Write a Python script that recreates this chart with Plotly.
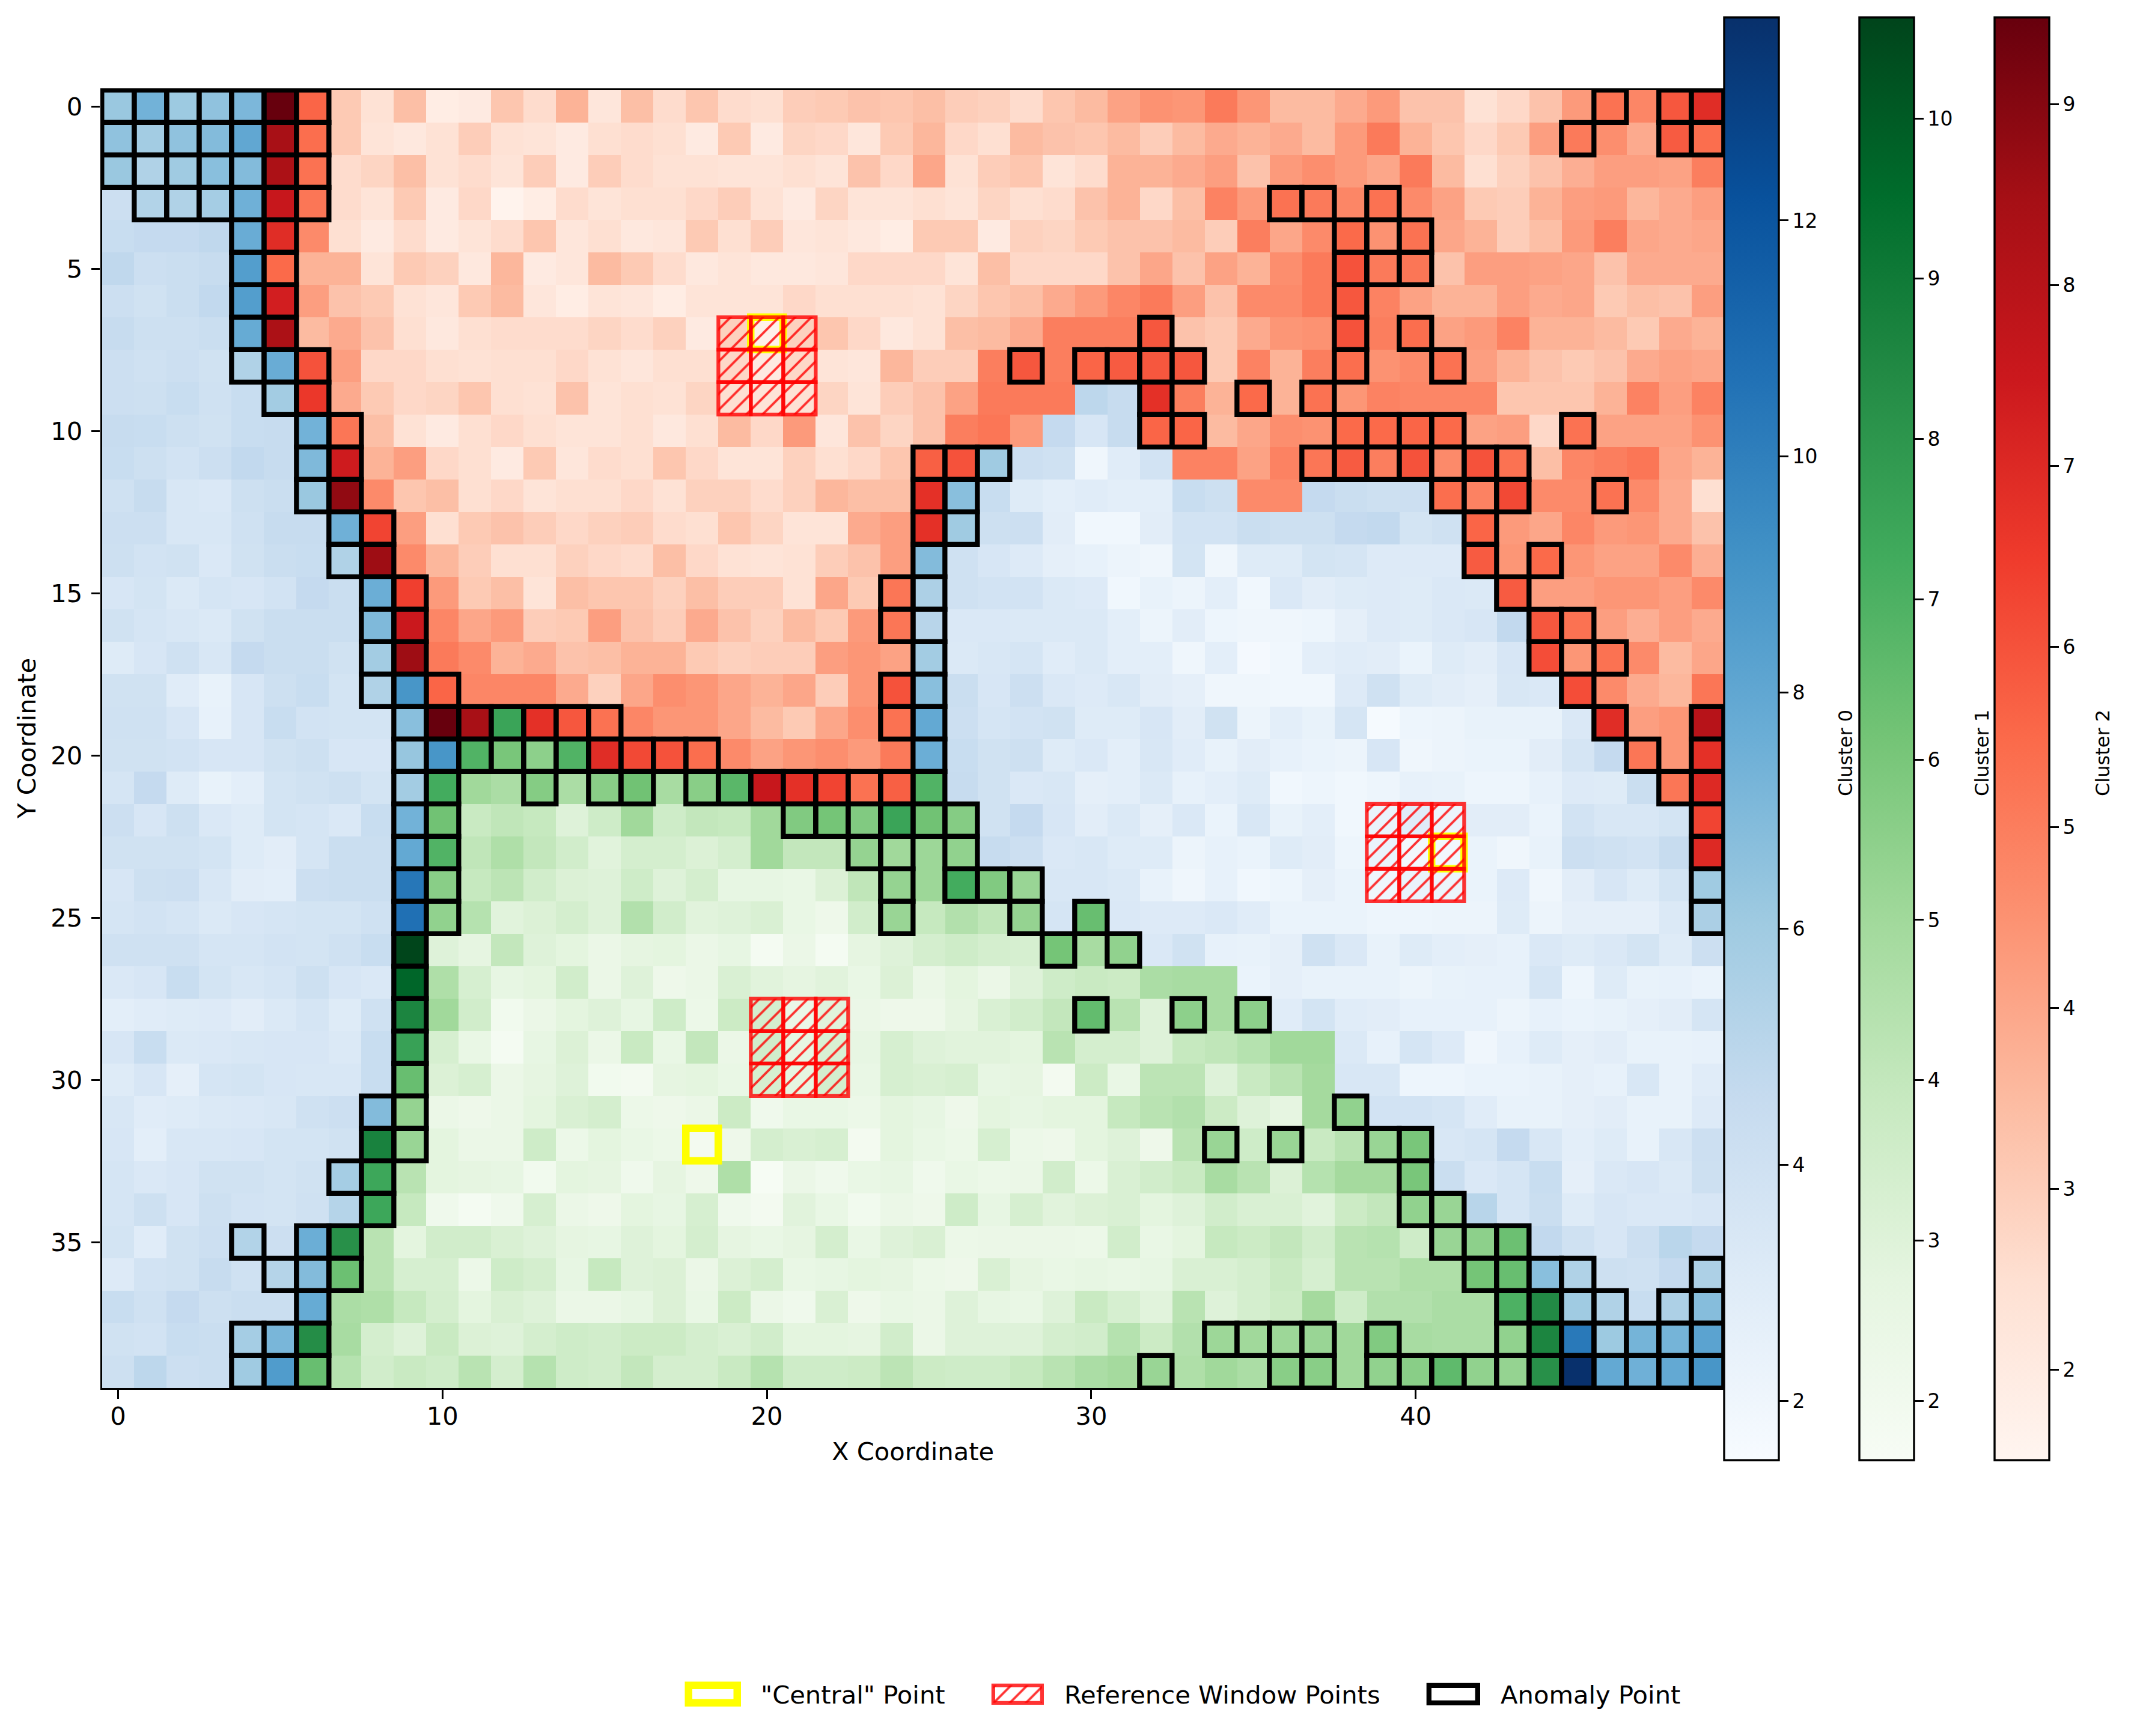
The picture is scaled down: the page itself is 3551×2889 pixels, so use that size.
import plotly.graph_objects as go

W, H = 3551, 2889
AX_L, AX_R, AX_T, AX_B = 169.5, 2868.5, 150, 2310
FONT = "DejaVu Sans"

x_ticks = [0, 10, 20, 30, 40]
y_ticks = [0, 5, 10, 15, 20, 25, 30, 35]

values = [
[6.2,7.4,6.1,6.5,7.1,9.5,5.6,3.1,2.4,3.4,1.9,2.0,3.2,2.6,3.7,2.2,3.4,2.6,3.2,2.6,2.5,3.0,3.1,3.3,3.2,3.4,3.0,2.9,2.6,3.2,3.5,4.1,4.5,4.4,5.1,4.4,3.5,3.5,3.9,4.3,3.3,3.3,2.4,2.7,3.3,4.3,5.3,4.8,5.9,6.9],
[6.5,5.9,6.5,6.9,8.0,8.4,5.4,3.1,2.3,2.1,2.4,3.0,2.4,2.3,2.0,2.5,2.6,2.5,2.0,3.1,2.0,2.8,2.7,2.2,3.1,3.6,2.7,2.5,3.5,3.3,3.2,3.5,3.0,3.5,3.9,3.7,3.9,3.5,4.3,5.1,3.7,3.2,2.7,3.1,4.2,5.1,4.6,3.9,5.8,5.4],
[6.2,5.4,6.0,6.7,6.9,8.3,5.3,2.6,2.8,3.4,2.4,2.6,2.3,3.0,2.0,3.0,2.6,2.4,2.4,2.3,2.3,2.5,2.3,3.3,2.7,4.0,2.4,3.0,3.2,2.3,2.6,3.7,3.7,3.9,4.2,3.3,4.3,4.6,4.3,4.0,5.1,3.5,2.5,2.9,3.3,3.8,4.2,4.2,4.1,5.0],
[4.2,5.3,5.4,5.8,7.5,7.6,5.2,2.6,2.3,3.1,2.0,2.7,1.6,1.9,2.6,2.3,2.5,2.5,2.7,3.0,2.4,2.0,2.8,2.3,2.3,2.5,2.3,2.8,2.5,2.6,3.3,3.7,2.7,3.4,4.9,4.3,5.3,5.1,4.8,5.3,4.7,4.1,3.1,3.0,3.7,4.2,4.3,3.6,3.9,4.2],
[4.4,4.6,4.6,4.8,7.7,6.9,4.7,2.5,2.0,2.6,2.0,2.3,2.6,3.2,2.2,2.5,2.1,2.2,3.1,2.5,3.0,2.2,2.3,2.1,1.9,3.1,3.1,2.0,2.9,2.8,3.1,3.3,3.3,3.5,3.0,5.0,4.0,4.7,5.5,4.5,5.3,4.0,3.7,3.0,3.4,4.3,5.0,4.0,3.9,4.0],
[4.8,4.2,4.3,4.5,8.5,5.5,3.7,3.7,2.3,3.1,2.9,2.1,3.6,2.0,2.2,3.5,3.1,2.6,2.1,2.3,2.1,2.1,2.2,2.7,2.7,2.7,2.3,3.4,2.7,2.7,2.7,3.3,4.0,3.3,4.1,3.7,4.6,5.1,6.0,5.1,5.2,3.3,4.2,4.2,4.1,4.0,3.3,3.9,3.9,3.9],
[4.2,3.9,4.3,4.7,8.5,7.3,4.2,3.3,3.1,2.4,2.2,3.1,3.5,2.2,1.9,2.3,2.2,1.9,2.3,2.3,2.3,2.7,2.5,2.5,2.5,2.4,2.8,3.2,3.4,3.9,4.3,4.8,5.1,4.2,3.3,4.7,4.7,5.1,5.9,4.9,4.1,3.7,3.7,4.2,3.9,4.0,3.1,3.4,3.3,4.2],
[4.5,4.1,4.1,4.3,7.8,8.3,3.5,3.9,3.3,2.5,2.1,2.5,2.6,2.6,2.6,2.8,2.6,2.9,2.0,2.9,1.7,2.9,3.2,2.7,2.1,2.4,3.4,3.5,3.9,5.0,5.0,5.0,5.9,3.3,3.1,3.9,4.4,4.5,6.0,5.0,5.4,4.1,4.3,4.9,3.7,3.7,3.5,3.1,3.9,3.7],
[4.2,4.0,4.2,3.9,5.4,7.7,6.0,4.2,2.7,2.7,2.5,2.4,2.5,2.5,2.7,2.4,2.2,2.5,2.5,2.7,2.0,2.7,2.3,2.2,3.6,3.0,3.0,5.0,5.9,5.0,5.6,5.8,5.9,5.9,3.1,4.9,3.7,5.0,5.4,4.5,4.7,5.3,4.2,3.7,3.3,3.1,3.3,3.9,4.1,4.0],
[4.2,4.1,4.4,4.0,4.4,5.9,6.6,3.9,3.1,2.7,2.8,3.2,2.5,2.4,3.3,2.3,2.5,2.4,2.8,2.5,2.3,2.4,2.8,2.3,3.0,3.3,4.1,5.1,5.1,5.1,4.9,4.5,6.8,5.0,3.7,5.5,3.7,5.3,4.4,4.9,4.8,4.8,4.8,3.2,3.2,3.2,3.7,4.9,4.2,4.9],
[4.5,4.4,4.1,3.9,4.4,4.5,7.4,5.2,3.4,2.4,2.0,2.5,2.7,2.5,2.3,2.3,2.5,2.1,2.5,3.5,2.7,4.3,2.2,3.3,2.8,3.3,5.0,5.2,4.3,4.6,3.5,4.5,5.6,5.6,3.5,4.0,4.6,4.5,5.5,5.5,5.6,5.5,4.1,4.2,2.7,5.3,4.1,4.1,4.1,4.5],
[4.4,4.1,3.8,4.2,4.7,4.5,7.0,7.4,3.7,4.2,2.7,2.5,2.0,3.1,2.2,2.6,2.5,3.2,2.7,2.3,2.3,2.9,2.5,2.7,3.2,5.7,6.0,6.0,4.2,4.0,2.0,2.9,3.8,4.9,4.9,4.1,4.9,5.2,5.8,5.0,6.0,4.7,6.0,5.3,3.4,4.8,5.0,5.2,4.0,3.7],
[4.0,4.5,3.4,3.3,4.1,4.3,6.2,8.8,4.7,3.2,3.4,2.5,2.7,2.3,2.5,2.5,2.7,2.4,2.9,2.9,2.6,2.9,3.6,3.4,3.4,6.8,6.7,4.4,3.0,2.7,2.9,2.7,2.7,4.4,4.1,4.7,4.7,4.6,4.3,4.1,4.2,5.4,4.9,6.2,4.7,4.7,5.3,4.7,3.9,2.5],
[4.2,4.2,3.4,3.4,4.0,4.5,4.5,7.5,6.3,4.2,2.5,3.1,3.3,3.0,2.7,2.9,3.0,2.6,2.5,3.2,2.8,2.3,2.3,3.9,4.2,6.8,6.0,4.1,4.2,2.8,1.9,1.9,2.8,3.8,3.8,4.3,4.1,4.1,4.6,4.7,3.7,4.0,5.6,4.3,4.0,4.8,4.3,4.4,3.9,3.3],
[4.1,3.8,3.9,3.3,3.9,4.3,4.4,5.4,8.6,4.7,3.6,3.0,2.5,2.5,2.9,2.7,2.6,3.4,2.7,2.4,2.3,2.4,3.0,3.3,4.2,6.9,4.0,3.5,3.1,2.6,2.5,2.2,2.0,3.7,2.0,3.0,3.0,3.7,3.6,3.1,3.1,3.1,5.8,4.4,5.5,4.4,4.1,4.1,4.7,3.8],
[3.5,3.7,3.2,3.6,3.5,3.8,4.6,4.3,7.6,6.4,4.3,3.1,3.4,2.3,3.4,3.2,3.2,2.9,3.4,3.0,3.0,2.4,4.0,3.1,5.2,5.5,4.0,3.8,3.8,3.2,3.1,1.9,2.4,2.2,2.7,1.9,3.3,2.8,3.0,3.1,3.0,3.3,3.2,5.8,4.2,4.2,4.4,4.4,4.2,4.7],
[3.9,3.6,3.4,3.2,3.9,4.3,4.3,4.3,7.0,7.5,4.8,4.0,4.3,3.0,3.1,4.2,3.3,3.0,3.9,3.3,2.9,3.5,3.1,4.3,5.2,5.1,3.3,3.3,3.2,3.2,3.2,2.7,2.2,2.8,2.1,2.0,2.0,2.1,2.6,3.1,3.0,3.3,3.5,4.7,5.9,5.3,4.2,3.8,4.2,3.9],
[3.0,3.5,4.0,3.4,4.6,4.3,4.3,3.9,5.9,8.6,5.1,4.7,3.7,3.9,3.3,3.4,3.7,3.7,3.1,2.9,3.0,3.0,4.2,4.4,4.1,5.9,3.2,3.4,3.6,2.9,3.2,2.7,2.7,2.0,2.7,1.7,1.9,2.7,2.9,2.8,2.3,3.0,2.8,3.5,6.1,4.4,5.3,4.7,3.5,4.0],
[3.9,3.9,2.9,2.4,3.5,4.1,4.4,3.7,5.4,8.9,5.6,4.8,4.8,4.8,3.9,2.9,4.0,4.6,4.4,4.0,3.7,4.0,3.0,4.4,6.0,6.7,4.3,3.5,4.2,3.3,3.1,3.4,2.8,2.6,2.0,2.0,1.9,1.9,3.1,4.0,3.0,2.8,2.6,3.4,3.3,6.1,4.7,3.9,3.6,5.2],
[4.0,4.0,3.5,2.5,3.5,4.4,3.8,3.7,3.7,6.7,9.5,8.4,7.5,6.8,5.9,5.3,4.8,4.4,4.4,4.0,3.5,3.1,4.0,4.6,5.3,7.9,4.2,3.6,3.8,3.9,3.0,3.0,3.5,2.8,3.9,2.2,2.7,2.4,3.6,1.6,2.1,2.2,2.4,2.4,2.4,3.3,6.9,4.2,4.4,8.0],
[3.9,3.9,3.8,3.5,3.5,3.9,4.1,3.5,3.5,6.3,8.9,6.9,6.0,5.5,6.9,6.9,6.2,6.0,5.4,4.7,4.1,4.4,4.6,4.3,5.1,7.6,4.4,3.9,4.1,3.0,3.3,2.7,3.4,2.9,2.4,2.8,2.5,2.3,2.2,3.5,2.0,2.2,2.3,2.3,2.8,3.6,4.6,5.2,4.4,6.8],
[3.6,4.6,3.0,2.4,2.7,3.7,3.9,4.1,3.7,5.9,7.2,5.0,4.7,5.7,4.7,5.6,6.2,4.8,5.6,6.7,7.6,6.8,6.3,5.3,5.7,6.9,4.5,3.9,3.3,3.4,2.6,2.7,3.2,2.5,2.7,3.0,1.9,2.1,1.9,2.1,2.5,2.4,2.1,2.1,2.5,3.1,3.0,4.3,5.2,7.0],
[4.2,3.5,4.1,3.3,3.0,3.7,3.6,3.3,4.4,7.4,6.2,3.8,4.1,3.9,3.0,3.6,5.0,3.6,4.0,3.9,5.0,5.8,6.1,5.8,7.5,6.2,5.7,3.9,4.6,3.5,2.8,3.2,2.6,3.3,2.3,3.4,2.4,2.7,1.9,2.3,2.9,2.2,2.8,2.8,2.3,3.8,3.4,3.4,3.7,6.3],
[3.9,3.9,3.9,3.7,3.0,2.8,3.6,4.3,4.3,7.9,6.9,4.1,4.6,4.0,3.5,2.9,3.4,3.4,3.1,3.4,5.0,4.0,4.0,5.3,5.0,5.1,5.4,4.5,4.2,3.3,3.4,3.0,3.0,2.2,2.5,2.3,3.0,2.8,2.1,2.3,1.8,1.8,2.3,2.0,2.4,4.2,4.0,3.8,4.5,7.0],
[3.5,4.1,4.2,3.4,2.8,2.7,4.2,4.3,4.3,10.4,5.6,3.9,4.2,3.5,3.1,3.0,3.6,3.0,3.4,2.6,2.6,2.5,3.1,4.1,5.3,5.1,7.2,5.8,5.2,3.4,3.4,3.2,2.4,2.0,2.5,1.9,2.1,2.6,2.3,2.0,2.3,2.2,2.3,3.1,2.0,2.8,3.5,3.0,3.7,6.0],
[3.6,3.8,3.6,3.2,3.5,3.6,3.7,3.7,4.0,10.7,5.4,4.4,2.9,3.1,3.4,3.0,4.5,3.5,2.9,3.0,3.2,2.5,2.2,3.5,5.2,3.9,4.5,4.1,5.3,3.6,6.4,3.3,3.1,3.1,3.3,2.9,2.3,2.3,2.3,2.1,2.1,2.2,2.2,3.0,2.2,2.6,2.6,2.6,3.2,5.6],
[4.0,4.0,4.0,3.6,3.6,3.8,3.7,4.0,4.4,10.6,3.0,2.7,4.0,3.0,2.8,2.4,2.7,2.8,2.4,2.6,1.8,2.4,1.8,2.7,3.0,3.4,3.6,3.4,3.3,6.1,4.8,5.4,3.3,3.9,2.5,2.4,2.6,4.0,3.3,2.4,3.0,2.7,2.6,2.5,3.3,3.0,3.3,3.7,3.0,4.2],
[3.3,3.5,4.4,3.7,3.4,3.6,4.1,3.5,3.3,9.7,4.6,3.3,2.6,2.8,3.5,2.4,3.0,2.2,2.4,3.2,2.9,2.7,2.9,2.5,3.1,2.4,2.8,2.4,3.0,3.6,3.8,3.7,4.7,4.8,4.8,2.3,2.6,2.4,2.4,2.4,2.2,2.4,2.5,2.5,3.6,2.1,3.0,2.4,2.5,2.3],
[2.7,2.9,3.0,3.1,2.8,3.2,3.6,3.0,4.0,8.6,5.0,3.5,2.0,2.4,2.8,3.0,2.6,3.6,2.3,3.7,3.4,2.4,2.9,2.4,2.2,2.2,2.7,3.2,3.5,4.0,6.5,4.3,3.0,5.5,4.8,5.5,2.9,3.7,2.9,2.8,2.5,2.5,2.5,2.2,2.5,2.3,2.4,2.6,2.8,3.6],
[3.5,4.4,3.2,3.3,3.4,3.5,3.5,3.2,4.4,7.6,3.3,2.5,1.8,2.6,3.1,2.4,3.8,2.5,4.0,2.4,3.5,2.6,3.2,2.6,3.3,3.0,2.9,2.9,2.8,4.3,3.4,3.4,3.0,3.9,4.1,4.4,5.0,5.0,3.2,2.5,3.6,3.1,2.0,2.5,3.0,2.6,2.8,2.4,2.4,2.5],
[3.0,3.5,2.6,3.6,3.7,3.5,3.4,3.4,4.4,6.4,3.1,3.3,2.4,2.7,3.0,2.0,1.9,2.7,2.8,2.5,3.3,2.7,3.4,2.5,3.3,3.2,3.3,2.6,2.7,1.9,3.7,2.5,4.2,4.2,3.0,3.8,4.3,4.9,3.4,3.4,2.1,2.1,2.3,2.3,2.4,2.6,2.5,3.4,2.4,2.9],
[3.4,2.9,3.0,3.2,3.3,3.4,4.0,4.2,6.9,5.3,2.4,2.2,2.4,2.8,3.2,3.4,2.3,2.2,2.4,3.7,2.1,2.5,2.5,2.3,2.8,2.6,2.2,2.8,2.6,2.8,2.8,3.9,4.3,4.5,3.7,3.0,2.7,4.9,5.4,3.8,3.8,3.6,2.9,2.4,2.4,2.6,2.8,2.4,2.4,3.1],
[3.5,2.7,3.4,3.4,3.5,3.7,3.7,3.9,8.7,5.2,2.8,2.4,2.4,3.6,2.3,2.8,2.5,2.3,1.9,2.2,3.4,3.2,3.3,1.9,2.8,2.5,2.3,3.3,2.3,2.2,2.8,3.0,2.2,4.3,5.2,3.6,5.2,3.8,4.3,5.2,6.0,3.4,3.6,4.6,3.4,2.7,3.0,2.4,3.4,4.2],
[3.6,3.3,3.5,3.9,3.9,3.7,3.9,5.8,7.4,4.3,2.8,2.7,2.6,2.0,2.8,2.7,2.1,2.7,2.2,4.6,1.7,2.4,2.1,2.5,2.6,2.1,2.5,2.3,2.4,3.5,2.3,3.2,3.5,3.8,4.8,4.3,3.1,4.4,4.9,4.9,6.0,4.3,3.3,3.6,4.4,2.6,3.3,3.5,3.2,4.1],
[3.6,4.1,3.5,4.1,3.8,3.7,4.0,5.2,7.4,3.9,2.1,1.8,2.1,3.3,2.4,2.2,2.8,2.6,3.3,2.1,1.9,2.9,2.5,2.0,2.4,2.2,3.6,2.6,3.3,2.9,3.1,3.2,2.8,3.0,3.5,3.2,3.2,2.9,3.7,4.0,5.4,5.2,5.1,3.6,4.3,3.0,3.5,3.3,3.3,3.5],
[3.7,2.9,3.9,4.2,5.3,4.2,7.6,8.2,4.3,2.8,3.5,3.5,3.2,3.0,2.7,2.6,3.0,2.8,3.4,2.7,2.5,2.7,3.4,2.5,3.0,3.2,2.3,2.4,2.4,2.4,2.3,3.5,2.5,2.8,3.9,3.7,4.0,3.5,4.3,4.4,3.6,5.2,5.5,6.3,4.7,4.0,3.5,4.2,5.0,4.6],
[3.1,3.8,3.9,4.5,4.0,5.2,6.9,6.3,4.3,3.3,3.3,2.3,3.6,3.4,2.6,3.9,3.0,3.1,2.4,3.1,3.4,2.5,2.6,2.8,2.7,2.3,2.2,3.2,2.7,2.5,2.6,2.5,2.6,3.2,3.2,3.4,3.8,3.3,4.3,4.3,4.6,4.6,6.1,6.4,6.7,5.4,4.1,4.0,4.6,5.5],
[4.4,4.0,4.6,4.1,4.3,4.3,7.8,4.7,4.6,3.9,3.4,2.8,3.2,3.0,2.4,2.4,2.6,3.1,2.5,3.7,2.4,2.1,3.2,2.2,2.5,2.4,3.0,2.6,2.5,3.0,3.8,3.3,2.9,4.3,3.0,3.4,3.7,4.9,3.6,4.5,4.5,4.7,4.7,7.0,8.4,6.0,5.4,4.4,5.5,6.8],
[3.9,3.8,4.4,4.3,5.8,7.2,8.3,4.8,3.4,3.0,3.8,3.1,3.0,3.4,3.6,3.5,3.7,3.7,3.4,3.2,3.5,2.8,2.8,2.7,3.5,2.4,3.0,3.0,3.0,3.4,3.5,4.4,3.7,4.5,5.1,5.0,5.1,5.2,5.0,5.8,4.8,4.7,4.7,5.4,8.6,10.3,6.1,7.3,7.3,8.2],
[4.1,4.9,4.2,4.3,6.0,8.6,6.4,4.4,3.5,3.8,3.6,4.3,3.4,4.4,3.6,3.5,4.0,3.4,3.4,3.8,4.4,3.6,3.6,3.7,4.2,3.7,3.6,3.6,3.9,4.3,4.7,4.9,5.2,4.6,5.0,4.7,5.6,5.6,5.0,5.4,5.6,6.6,5.4,5.3,8.2,13.7,7.9,7.5,7.9,8.9],
]

# (cluster, number of consecutive columns) for each row
cluster_runs = [
[(0,5),(2,45)],[(0,5),(2,45)],[(0,5),(2,45)],[(0,5),(2,45)],[(0,5),(2,45)],[(0,5),(2,45)],[(0,5),(2,45)],[(0,5),(2,45)],
[(0,6),(2,44)],
[(0,6),(2,24),(0,2),(2,18)],
[(0,7),(2,22),(0,3),(2,18)],
[(0,7),(2,20),(0,6),(2,17)],
[(0,7),(2,19),(0,9),(2,2),(0,4),(2,9)],
[(0,8),(2,18),(0,16),(2,8)],
[(0,8),(2,17),(0,17),(2,8)],
[(0,9),(2,16),(0,18),(2,7)],
[(0,9),(2,16),(0,19),(2,6)],
[(0,9),(2,16),(0,19),(2,6)],
[(0,10),(2,15),(0,20),(2,5)],
[(0,10),(2,2),(1,1),(2,12),(0,21),(2,4)],
[(0,11),(1,4),(2,10),(0,22),(2,3)],
[(0,10),(1,10),(2,5),(1,1),(0,22),(2,2)],
[(0,10),(1,17),(0,22),(2,1)],
[(0,10),(1,17),(0,22),(2,1)],
[(0,10),(1,19),(0,21)],
[(0,10),(1,19),(0,1),(1,1),(0,19)],
[(0,9),(1,23),(0,18)],
[(0,9),(1,26),(0,15)],
[(0,9),(1,27),(0,14)],
[(0,9),(1,29),(0,12)],
[(0,9),(1,29),(0,12)],
[(0,9),(1,30),(0,11)],
[(0,8),(1,33),(0,9)],
[(0,8),(1,33),(0,9)],
[(0,8),(1,34),(0,8)],
[(0,7),(1,37),(0,6)],
[(0,7),(1,37),(0,6)],
[(0,7),(1,38),(0,5)],
[(0,6),(1,39),(0,5)],
[(0,6),(1,39),(0,5)],
]

anomaly_cols = [
[0,1,2,3,4,5,6,46,48,49],
[0,1,2,3,4,5,6,45,48,49],
[0,1,2,3,4,5,6],
[1,2,3,4,5,6,36,37,39],
[4,5,38,39,40],
[4,5,38,39,40],
[4,5,38],
[4,5,32,38,40],
[4,5,6,28,30,31,32,33,38,41],
[5,6,32,35,37],
[6,7,32,33,38,39,40,41,45],
[6,7,25,26,27,37,38,39,40,41,42,43],
[6,7,25,26,41,42,43,46],
[7,8,25,26,42],
[7,8,25,42,44],
[8,9,24,25,43],
[8,9,24,25,44,45],
[8,9,25,44,45,46],
[8,9,10,24,25,45],
[9,10,11,12,13,14,15,24,25,46,49],
[9,10,11,12,13,14,15,16,17,18,25,47,49],
[9,10,13,15,16,18,19,20,21,22,23,24,25,48,49],
[9,10,21,22,23,24,25,26,49],
[9,10,23,24,26,49],
[9,10,24,26,27,28,49],
[9,10,24,28,30,49],
[9,29,31],
[9],
[9,30,33,35],
[9],
[9],
[8,9,38],
[8,9,34,36,39,40],
[7,8,40],
[8,40,41],
[4,6,7,41,42,43],
[5,6,7,42,43,44,45,49],
[6,43,44,45,46,48,49],
[4,5,6,34,35,36,37,39,43,44,45,46,47,48,49],
[4,5,6,32,36,37,39,40,41,42,43,44,45,46,47,48,49],
]

central_points = [(20, 7), (41, 23), (18, 32)]
window_corners = [(19, 7), (39, 22), (20, 28)]
cluster_names = ["Cluster 0", "Cluster 1", "Cluster 2"]
cluster_scales = ["Blues", "Greens", "Reds"]
cluster_ranges = [(1.5, 13.72), (1.63, 10.63), (1.5, 9.48)]
cluster_ticks = [[2, 4, 6, 8, 10, 12], [2, 3, 4, 5, 6, 7, 8, 9, 10], [2, 3, 4, 5, 6, 7, 8, 9]]
cbar_left = [2869, 3094, 3319]
cbar_label_x = [3071, 3298, 3499]
legend_labels = ['"Central" Point', "Reference Window Points", "Anomaly Point"]

bad = [(i, len(r)) for i, r in enumerate(values) if len(r) != 50]
bad2 = [(i, sum(n for _, n in r)) for i, r in enumerate(cluster_runs) if sum(n for _, n in r) != 50]
assert not bad and not bad2 and len(values) == 40 and len(cluster_runs) == 40, (bad, bad2, len(values), len(cluster_runs))

labels = []
for runs in cluster_runs:
    row = []
    for c, n in runs:
        row += [c] * n
    labels.append(row)

fig = go.Figure()
cols = list(range(50))
rows = list(range(40))
for k in range(3):
    z = [[values[r][c] if labels[r][c] == k else None for c in cols] for r in rows]
    fig.add_trace(go.Heatmap(
        x=cols, y=rows, z=z, colorscale=cluster_scales[k],
        zmin=cluster_ranges[k][0], zmax=cluster_ranges[k][1], name=cluster_names[k],
        hoverongaps=False, showscale=True,
        colorbar=dict(
            x=cbar_left[k] / W, xanchor="left", xref="paper", xpad=0,
            y=1 - 29 / H, yanchor="top", yref="paper", ypad=0,
            len=2401 / H, lenmode="fraction", thickness=91, thicknessmode="pixels",
            outlinewidth=3.4, outlinecolor="black",
            tickmode="array", tickvals=cluster_ticks[k], ticks="outside",
            ticklen=14.6, tickwidth=3.3, tickcolor="black",
            tickfont=dict(family=FONT, size=33, color="black"),
        ),
    ))


def cell_bar(cells, name, marker):
    return go.Bar(
        x=[c for c, _ in cells], y=[1] * len(cells), base=[r - 0.5 for _, r in cells],
        width=1, name=name, showlegend=False, marker=marker, hoverinfo="skip",
    )


hatch = dict(shape="/", size=19, solidity=0.2, fgcolor="red", fgopacity=0.8,
             bgcolor="rgba(0,0,0,0)", fillmode="overlay")
red_marker = dict(color="rgba(0,0,0,0)", line=dict(color="rgba(255,0,0,0.8)", width=6.25), pattern=hatch)
yellow_marker = dict(color="rgba(0,0,0,0)", line=dict(color="yellow", width=12.5))
black_marker = dict(color="rgba(0,0,0,0)", line=dict(color="black", width=8.33))

anomaly_cells = [(c, r) for r, cs in enumerate(anomaly_cols) for c in cs]
window_cells = [(c0 + i, r0 + j) for c0, r0 in window_corners for j in range(3) for i in range(3)]
fig.add_trace(cell_bar(central_points, legend_labels[0], yellow_marker))
fig.add_trace(cell_bar(window_cells, legend_labels[1], red_marker))
fig.add_trace(cell_bar(anomaly_cells, legend_labels[2], black_marker))

# legend keys on a hidden overlay axis pair measured in page pixels
key_x = [1186.5, 1693, 2418.5]
key_markers = [yellow_marker, red_marker, black_marker]
for kx, km, name in zip(key_x, key_markers, legend_labels):
    fig.add_trace(go.Bar(x=[kx], y=[29], base=[2805], width=81, name=name, showlegend=False,
                         marker=km, xaxis="x2", yaxis="y2", hoverinfo="skip"))

annotations = []
for lx, text in zip([1264, 1769, 2495], legend_labels):
    annotations.append(dict(x=lx / W, y=1 - 2820 / H, xref="paper", yref="paper", text=text, showarrow=False,
                            xanchor="left", yanchor="middle", font=dict(family=FONT, size=41.67, color="black")))
for lx, name in zip(cbar_label_x, cluster_names):
    annotations.append(dict(x=lx / W, y=1 - 1253 / H, xref="paper", yref="paper", text=name, showarrow=False,
                            textangle=-90, xanchor="center", yanchor="middle",
                            font=dict(family=FONT, size=32, color="black")))
annotations.append(dict(x=1519 / W, y=1 - 2415 / H, xref="paper", yref="paper", text="X Coordinate", showarrow=False,
                        xanchor="center", yanchor="middle", font=dict(family=FONT, size=41.67, color="black")))
annotations.append(dict(x=44 / W, y=1 - 1229 / H, xref="paper", yref="paper", text="Y Coordinate", showarrow=False,
                        textangle=-90, xanchor="center", yanchor="middle", font=dict(family=FONT, size=41.67, color="black")))

axis_style = dict(showgrid=False, zeroline=False, showline=True, mirror=True, linecolor="black", linewidth=3.4,
                  ticks="outside", ticklen=14.6, tickwidth=3.3, tickcolor="black", tickmode="array",
                  tickfont=dict(family=FONT, size=41.67, color="black"), layer="above traces")
fig.update_layout(
    width=W, height=H, autosize=False, paper_bgcolor="white", plot_bgcolor="rgba(0,0,0,0)",
    margin=dict(l=0, r=0, t=0, b=0, pad=0, autoexpand=False), barmode="overlay", bargap=0, showlegend=False,
    font=dict(family=FONT, color="black"),
    xaxis=dict(domain=[AX_L / W, AX_R / W], range=[-0.5, 49.5], tickvals=x_ticks, anchor="y",
               ticklabelstandoff=-7, **axis_style),
    yaxis=dict(domain=[1 - AX_B / H, 1 - AX_T / H], range=[39.5, -0.5], tickvals=y_ticks, anchor="x",
               ticklabelstandoff=6, **axis_style),
    xaxis2=dict(domain=[0, 1], range=[0, W], visible=False, anchor="y2", fixedrange=True),
    yaxis2=dict(domain=[0, 1], range=[H, 0], visible=False, anchor="x2", fixedrange=True),
    annotations=annotations,
)
fig.write_html("out.html", config={"displayModeBar": False}, post_script="document.body.style.margin='0';")
